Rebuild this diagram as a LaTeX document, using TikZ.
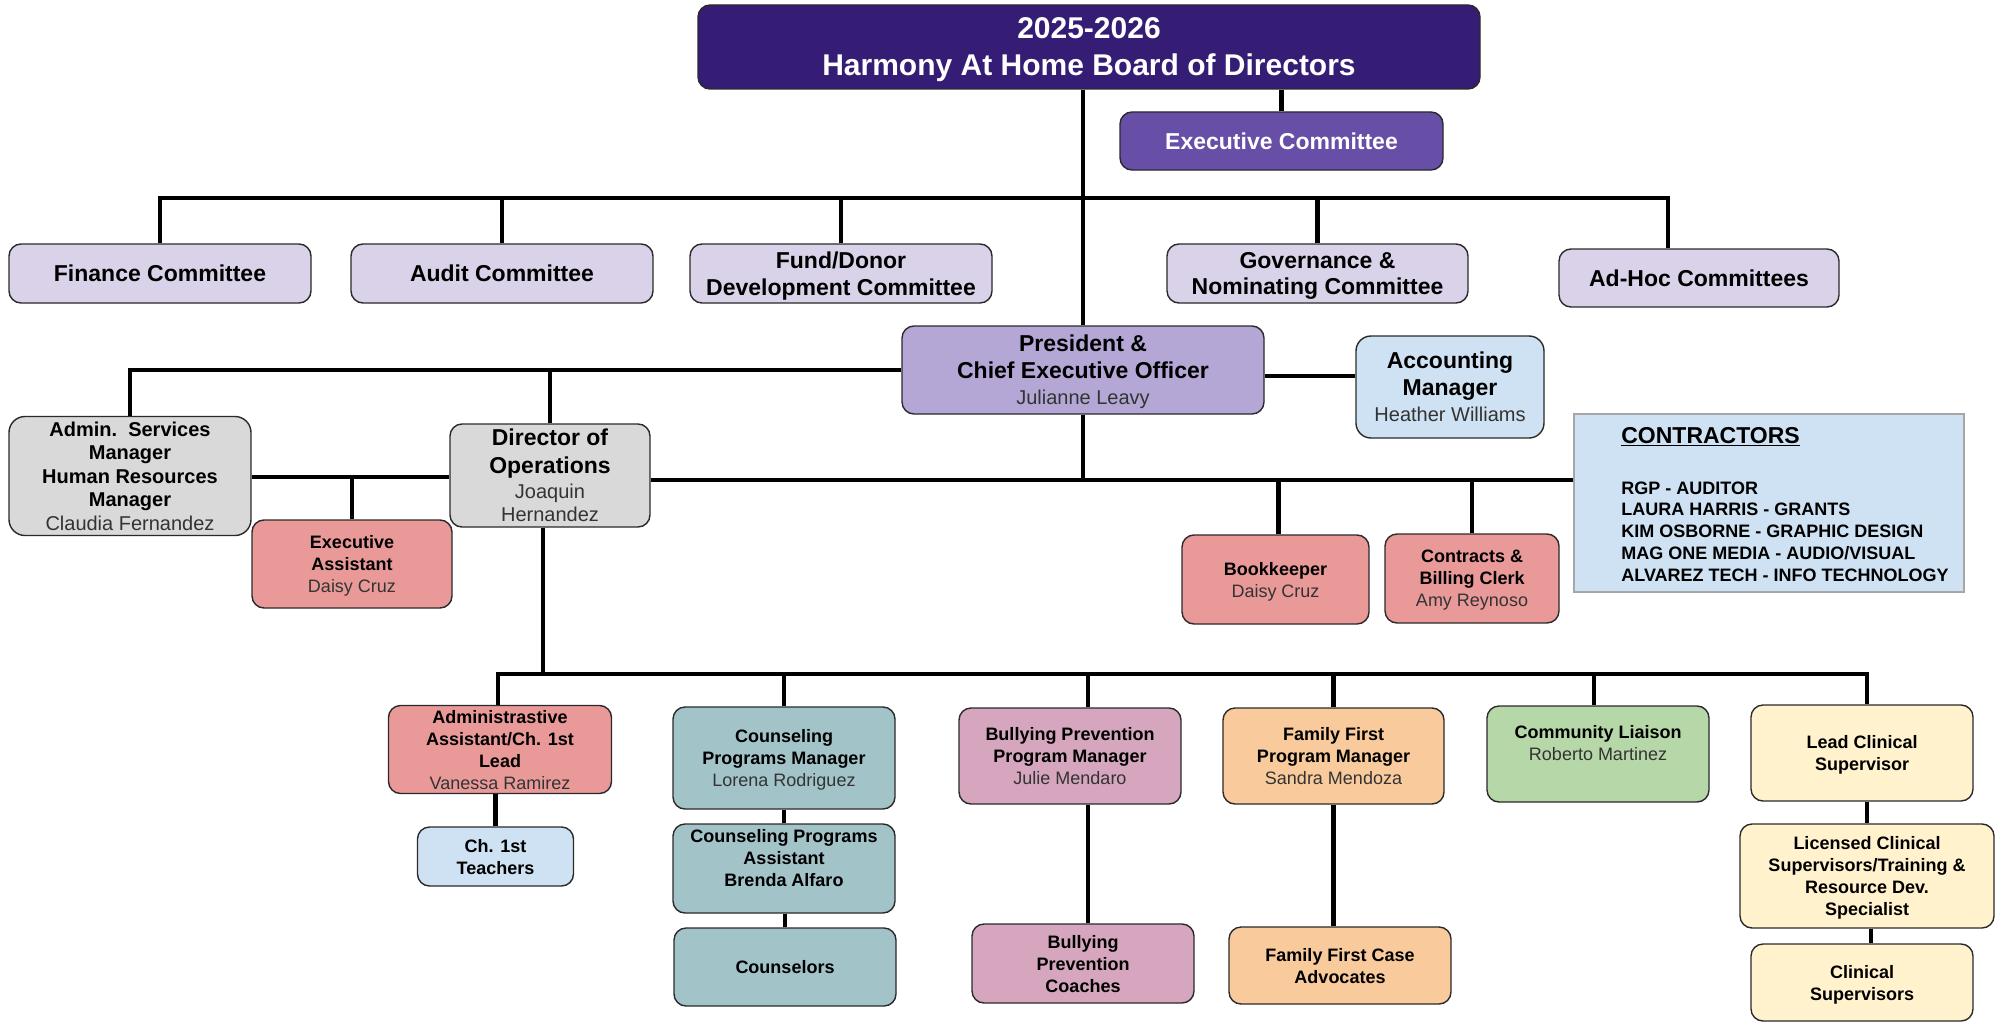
\documentclass[tikz,border=0pt]{standalone}
\usepackage{fontspec}
\setmainfont{Liberation Sans}
\usetikzlibrary{calc}
\definecolor{boardcol}{HTML}{351C75}
\definecolor{execcol}{HTML}{674EA7}
\definecolor{commcol}{HTML}{D9D2E9}
\definecolor{prescol}{HTML}{B4A7D6}
\definecolor{lbluecol}{HTML}{CFE2F3}
\definecolor{lgraycol}{HTML}{D9D9D9}
\definecolor{lredcol}{HTML}{EA9999}
\definecolor{cyancol}{HTML}{A2C4C9}
\definecolor{magcol}{HTML}{D5A6BD}
\definecolor{orcol}{HTML}{F9CB9C}
\definecolor{grcol}{HTML}{B6D7A8}
\definecolor{yelcol}{HTML}{FFF2CC}
\definecolor{bordc}{HTML}{2A2A2A}
\definecolor{namec}{HTML}{333333}
\newcommand\fName{\fontsize{20}{24}\selectfont\mdseries\color{namec}}
\newcommand\fSmName{\fontsize{18}{22}\selectfont\mdseries\color{namec}}
\tikzset{
  box/.style={draw=bordc, line width=1.4pt, rounded corners=12pt, align=center, inner sep=0pt, text=black, text depth=0pt},
  sz/.style 2 args={minimum width=#1, minimum height=#2},
  big/.style={font=\fontsize{23}{26.5}\selectfont\bfseries},
  small/.style={font=\fontsize{18}{22}\selectfont\bfseries},
  conn/.style={line width=4.2pt, draw=black},
}
\begin{document}
\begin{tikzpicture}[x=1pt,y=-1pt]
\fill[white] (0,0) rectangle (2004,1030);
\useasboundingbox (0,0) rectangle (2004,1030);

% board
\node[box, fill=boardcol, text=white, sz={782}{84}, font=\fontsize{30}{37}\selectfont\bfseries] (board) at (1089,47) {2025-2026\\Harmony At Home Board of Directors};
\node[box, fill=execcol, text=white, sz={323}{58}, big] (exec) at (1281.5,141) {Executive Committee};

% committees
\node[box, fill=commcol, sz={302}{59}, big] (fin) at (160,273.5) {Finance Committee};
\node[box, fill=commcol, sz={302}{59}, big] (aud) at (502,273.5) {Audit Committee};
\node[box, fill=commcol, sz={302}{59}, big] (fund) at (841,273.5) {Fund/Donor\\Development Committee};
\node[box, fill=commcol, sz={301}{59}, big] (gov) at (1317.5,273.5) {Governance \&\\Nominating Committee};
\node[box, fill=commcol, sz={280}{58}, big] (adh) at (1699,278) {Ad-Hoc Committees};

% executive level
\node[box, fill=prescol, sz={362}{88}, big] (pres) at (1083,370) {President \&\\Chief Executive Officer\\{\fName Julianne Leavy}};
\node[box, fill=lbluecol, sz={188}{102}, rounded corners=15pt, big] (acct) at (1450,387) {Accounting\\Manager\\{\fName Heather Williams}};
\node[draw=gray!70, line width=1.2pt, fill=lbluecol, sz={390}{178}, inner sep=0pt, font=\fontsize{18}{21.7}\selectfont\bfseries] (con) at (1769,503)
  {\hspace*{32pt}\raisebox{-4.5pt}[\height][\depth]{\begin{tabular}{@{}l@{}}{\fontsize{23}{26}\selectfont\underline{CONTRACTORS}}\\[29pt]
   RGP - AUDITOR\\LAURA HARRIS - GRANTS\\KIM OSBORNE - GRAPHIC DESIGN\\MAG ONE MEDIA - AUDIO/VISUAL\\ALVAREZ TECH - INFO TECHNOLOGY\end{tabular}}};

\node[box, fill=lgraycol, sz={242}{119}, rounded corners=16pt, font=\fontsize{20}{23.5}\selectfont\bfseries] (asm) at (130,476)
  {Admin.\ \ Services\\Manager\\Human Resources\\Manager\\{\fName Claudia Fernandez}};
\node[box, fill=lgraycol, sz={200}{103}, font=\fontsize{23}{25}\selectfont\bfseries] (dir) at (550,475.5)
  {Director of\\[3pt]Operations\\{\fName Joaquin}\\[-2pt]{\fName Hernandez}};
\node[box, fill=lredcol, sz={200}{88}, small] (ea) at (352,564) {Executive\\Assistant\\{\fSmName Daisy Cruz}};
\node[box, fill=lredcol, sz={187}{89}, small] (bk) at (1275.5,579.5) {Bookkeeper\\{\fSmName Daisy Cruz}};
\node[box, fill=lredcol, sz={174}{89}, small] (cb) at (1472,578.5) {Contracts \&\\Billing Clerk\\{\fSmName Amy Reynoso}};

% bottom row
\node[box, fill=lredcol, sz={223}{88}, small] (aa) at (500,749.5) {Administrastive\\Assistant/Ch. 1st\\Lead\\{\fSmName Vanessa Ramirez}};
\node[box, fill=lbluecol, sz={156}{59}, small] (ch1) at (495.5,856.5) {Ch. 1st\\Teachers};
\node[box, fill=cyancol, sz={222}{102}, small] (cm) at (784,758) {Counseling\\Programs Manager\\{\fSmName Lorena Rodriguez}};
\node[box, fill=cyancol, sz={222}{89}, small] (ca) at (784,868.5) {Counseling Programs\\Assistant\\Brenda Alfaro\\\mbox{}};
\node[box, fill=cyancol, sz={222}{78}, small] (cou) at (785,967) {Counselors};
\node[box, fill=magcol, sz={222}{96}, small] (bpm) at (1070,756) {Bullying Prevention\\Program Manager\\{\fSmName Julie Mendaro}};
\node[box, fill=magcol, sz={222}{79}, small] (bpc) at (1083,963.5) {Bullying\\Prevention\\Coaches};
\node[box, fill=orcol, sz={221}{96}, small] (ffm) at (1333.5,756) {Family First\\Program Manager\\{\fSmName Sandra Mendoza}};
\node[box, fill=orcol, sz={222}{77}, small] (ffc) at (1340,965.5) {Family First Case\\Advocates};
\node[box, fill=grcol, sz={222}{96}, small] (cl) at (1598,754) {Community Liaison\\{\fSmName Roberto Martinez}\\\mbox{}};
\node[box, fill=yelcol, sz={222}{96}, small] (lcs) at (1862,753) {Lead Clinical\\Supervisor};
\node[box, fill=yelcol, sz={254}{104}, small] (lic) at (1867,876) {Licensed Clinical\\Supervisors/Training \&\\Resource Dev.\\Specialist};
\node[box, fill=yelcol, sz={222}{77}, small] (cs) at (1862,982.5) {Clinical\\Supervisors};

% bus levels
\coordinate (cbus) at (0,198);
\coordinate (pa) at (0,376);
\coordinate (mid) at (0,477);
\coordinate (rbus) at (0,480);
\coordinate (bbus) at (0,674);

% connectors
\draw[conn] (pres.north) -- (pres.north |- board.south);
\draw[conn] (exec.north) -- (exec.north |- board.south);
\draw[conn] (fin.north) |- ([xshift=-31pt]adh.north |- cbus) -- ([xshift=-31pt]adh.north);
\foreach \n in {aud,fund,gov} \draw[conn] (\n.north) -- (\n.north |- cbus);

\draw[conn] (pres.west) -| (asm.north);
\draw[conn] (dir.north) -- (dir.north |- pres.west);
\draw[conn] (pres.east |- pa) -- (acct.west |- pa);
\draw[conn] (asm.east |- mid) -- (dir.west |- mid);
\draw[conn] (ea.north) -- (ea.north |- mid);
\draw[conn] (dir.east |- rbus) -- (con.west |- rbus);
\draw[conn] (pres.south) -- (pres.south |- rbus);
\draw[conn] ([xshift=3pt]bk.north) -- ([xshift=3pt]bk.north |- rbus);
\draw[conn] (cb.north) -- (cb.north |- rbus);

\draw[conn] ([xshift=-7pt]dir.south) -- ([xshift=-7pt]dir.south |- bbus);
\draw[conn] ([xshift=-2pt]aa.north) |- ([xshift=5pt]lcs.north |- bbus) -- ([xshift=5pt]lcs.north);
\draw[conn] (cm.north) -- (cm.north |- bbus);
\draw[conn] ([xshift=18pt]bpm.north) -- ([xshift=18pt]bpm.north |- bbus);
\draw[conn] (ffm.north) -- (ffm.north |- bbus);
\draw[conn] ([xshift=-4pt]cl.north) -- ([xshift=-4pt]cl.north |- bbus);

\draw[conn] (ch1.north) -- (ch1.north |- aa.south);
\draw[conn] (ca.north) -- (ca.north |- cm.south);
\draw[conn] (cou.north) -- (cou.north |- ca.south);
\draw[conn] ([xshift=18pt]bpm.south) -- ([xshift=18pt]bpm.south |- bpc.north);
\draw[conn] (ffm.south) -- (ffm.south |- ffc.north);
\draw[conn] (lic.north) -- (lic.north |- lcs.south);
\draw[conn] ([xshift=4pt]lic.south) -- ([xshift=4pt]lic.south |- cs.north);
\end{tikzpicture}
\end{document}
